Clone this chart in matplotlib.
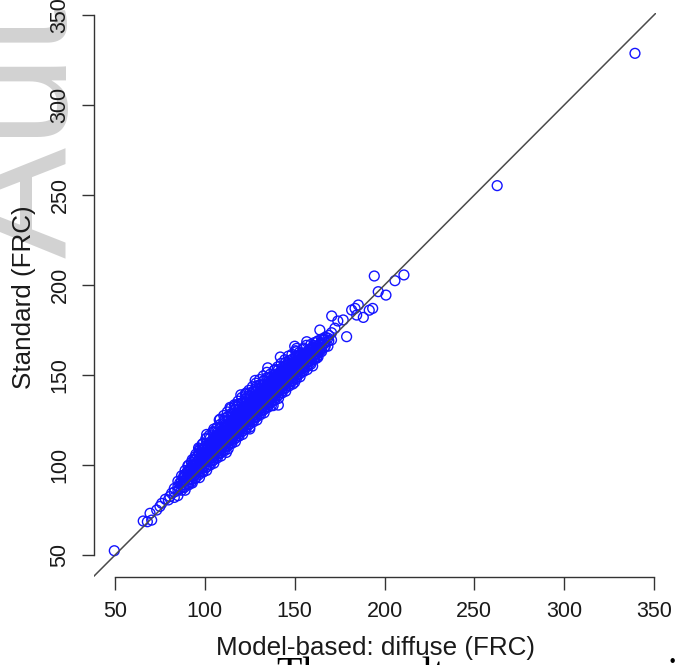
import matplotlib
matplotlib.use('Agg')
import matplotlib.pyplot as plt

plt.rcParams['font.family'] = ['Liberation Sans', 'DejaVu Sans']

# ---- data ----
# dense cloud, one column of Standard values per Model-based value
core_x = [83, 85, 87, 89, 91, 93, 95, 97, 99, 101, 103, 105, 107, 109, 111, 113, 115,
          117, 119, 121, 123, 125, 127, 129, 131, 133, 135, 137, 139, 141, 143, 145,
          147, 149, 151, 153, 155, 157, 159, 161, 163, 165, 167, 169,
          86, 88, 90, 92, 94, 96, 98, 100, 102, 104, 106, 108, 110, 112, 114, 116,
          118, 120, 122, 124, 126, 128, 130, 132, 134, 136, 138, 140, 142, 144, 146,
          148, 150, 152, 154, 156, 158, 160, 162, 164, 166]
core_y = [[82, 85, 87], [83, 86, 88, 91], [86, 89, 91, 94], [86, 89, 91, 94, 97],
          [89, 92, 94, 97, 100], [90, 92, 95, 97, 100, 103], [93, 95, 98, 100, 103, 106],
          [93, 96, 98, 101, 103, 106, 109], [96, 99, 101, 104, 106, 109, 112],
          [97, 99, 102, 104, 107, 109, 112, 115], [100, 102, 105, 107, 110, 112, 115],
          [101, 103, 105, 108, 110, 113, 115, 118, 120],
          [104, 106, 108, 111, 113, 116, 118, 121], [105, 107, 109, 111, 114, 116, 119, 121],
          [108, 110, 112, 114, 117, 119, 122, 124, 126],
          [109, 111, 113, 115, 117, 120, 122, 125, 127],
          [112, 114, 116, 118, 120, 123, 125, 128],
          [113, 115, 117, 119, 121, 123, 126, 128, 131, 133],
          [116, 118, 120, 122, 124, 126, 129, 131, 134],
          [117, 119, 121, 123, 125, 127, 129, 132, 134],
          [120, 122, 124, 126, 128, 130, 132, 135, 137, 140],
          [121, 123, 125, 127, 129, 131, 133, 135, 138, 140],
          [124, 126, 128, 130, 132, 134, 136, 138, 141],
          [125, 127, 129, 131, 133, 135, 137, 139, 141, 144],
          [128, 130, 132, 134, 136, 138, 140, 142, 144],
          [129, 131, 133, 135, 137, 139, 141, 143, 145, 147],
          [132, 134, 136, 138, 140, 142, 144, 146, 148],
          [133, 135, 137, 139, 141, 143, 145, 147, 149],
          [136, 138, 140, 142, 144, 146, 148, 150, 153],
          [137, 139, 141, 143, 145, 147, 149, 151, 153],
          [140, 142, 144, 146, 148, 150, 152, 154],
          [141, 143, 145, 147, 149, 151, 153, 155, 157],
          [144, 146, 148, 150, 152, 154, 156, 158],
          [145, 147, 149, 151, 153, 155, 157, 159],
          [148, 150, 152, 154, 156, 158, 160, 163],
          [149, 151, 153, 155, 157, 159, 161],
          [152, 154, 156, 158, 160, 162, 165],
          [153, 155, 157, 159, 161, 163],
          [156, 158, 160, 162, 164, 167],
          [159, 161, 163, 165, 168], [160, 162, 164, 166, 169],
          [163, 165, 167, 170], [166, 168, 171], [169, 172],
          [87, 90], [88, 91, 93], [90, 93, 96], [92, 95, 98], [94, 97, 100, 103],
          [96, 99, 102, 105], [98, 101, 104, 107], [100, 103, 106, 109],
          [102, 105, 108, 111], [104, 107, 110, 113], [106, 109, 112, 115],
          [108, 111, 114, 117], [110, 113, 116, 119], [112, 115, 118, 121],
          [114, 117, 120, 123], [116, 119, 122, 125], [118, 121, 124, 127],
          [120, 123, 126, 129], [122, 125, 128, 131], [124, 127, 130, 133],
          [126, 129, 132, 135], [128, 131, 134, 137], [130, 133, 136, 139],
          [132, 135, 138, 141], [134, 137, 140, 143], [136, 139, 142, 145],
          [138, 141, 144, 147], [140, 143, 146, 149], [142, 145, 148, 151],
          [144, 147, 150, 153], [146, 149, 152], [148, 151, 154], [150, 153, 156],
          [152, 155, 158], [154, 157, 160], [156, 159, 162], [158, 161, 164],
          [160, 163], [162, 165], [164, 167], [167]]

half_x = [88.5, 90.5, 92.5, 94.5, 96.5, 98.5, 100.5, 102.5, 104.5, 106.5, 108.5, 110.5,
          112.5, 114.5, 116.5, 118.5, 120.5, 122.5, 124.5, 126.5, 128.5, 130.5, 132.5,
          134.5, 136.5, 138.5, 140.5, 142.5, 144.5, 146.5, 148.5, 150.5, 152.5, 154.5,
          156.5, 158.5, 160.5, 162.5, 164.5, 166.5, 168.5, 170.5]
half_y = [[87.5, 91.5, 94.5], [89.5, 93.5, 96.5, 99.5], [90.5, 94.5, 98.5, 101.5],
          [92.5, 96.5, 100.5, 104.5], [94.5, 98.5, 102.5, 106.5, 109.5],
          [96.5, 100.5, 104.5, 108.5, 111.5], [98.5, 102.5, 106.5, 110.5, 114.5],
          [100.5, 104.5, 108.5, 112.5, 116.5], [102.5, 106.5, 110.5, 114.5, 118.5],
          [104.5, 108.5, 112.5, 116.5, 120.5], [106.5, 110.5, 114.5, 118.5, 122.5, 125.5],
          [108.5, 112.5, 116.5, 120.5, 124.5, 127.5], [110.5, 114.5, 118.5, 122.5, 126.5, 129.5],
          [112.5, 116.5, 120.5, 124.5, 128.5, 131.5], [114.5, 118.5, 122.5, 126.5, 130.5, 133.5],
          [116.5, 120.5, 124.5, 128.5, 132.5, 135.5], [118.5, 122.5, 126.5, 130.5, 134.5, 137.5],
          [120.5, 124.5, 128.5, 132.5, 136.5, 139.5], [122.5, 126.5, 130.5, 134.5, 138.5, 141.5],
          [124.5, 128.5, 132.5, 136.5, 140.5, 143.5], [126.5, 130.5, 134.5, 138.5, 142.5, 145.5],
          [128.5, 132.5, 136.5, 140.5, 144.5, 147.5], [130.5, 134.5, 138.5, 142.5, 146.5, 149.5],
          [132.5, 136.5, 140.5, 144.5, 148.5, 151.5], [134.5, 138.5, 142.5, 146.5, 150.5],
          [136.5, 140.5, 144.5, 148.5, 152.5], [138.5, 142.5, 146.5, 150.5, 154.5],
          [140.5, 144.5, 148.5, 152.5, 156.5], [142.5, 146.5, 150.5, 154.5, 158.5],
          [144.5, 148.5, 152.5, 156.5, 160.5], [146.5, 150.5, 154.5, 158.5, 161.5],
          [148.5, 152.5, 156.5, 160.5, 163.5], [150.5, 154.5, 158.5, 162.5],
          [152.5, 156.5, 160.5, 164.5], [154.5, 158.5, 162.5, 166.5],
          [156.5, 160.5, 164.5], [158.5, 162.5, 166.5], [160.5, 164.5, 168.5],
          [163.5, 167.5], [165.5, 169.5], [170.5], [169.5, 173.5]]

# sparse points outside the dense cloud
tail_x = [49.6, 65.7, 68.0, 70.4, 69.5, 73.2, 76.0, 79.7, 81.5, 75.0, 78.0, 80.5,
          97.3, 104.7, 117.7, 123.3, 140.9, 151.1, 156.7, 162.2, 164.0, 166.0, 168.5,
          170.6, 172.4, 174.0, 177.0, 178.9, 181.7, 183.6, 184.5, 185.4, 188.2, 191.5,
          193.4, 194.3, 196.5, 200.8, 205.8, 210.8, 262.7, 339.4,
          101.0, 108.0, 114.0, 120.0, 128.0, 135.0, 142.0, 150.0,
          112.0, 125.0, 138.0, 150.0, 160.0]
tail_y = [52.4, 68.9, 68.5, 69.4, 73.2, 75.0, 78.7, 80.6, 84.3, 77.0, 81.0, 82.5,
          108.3, 118.5, 132.4, 139.8, 133.3, 164.8, 168.5, 159.3, 175.0, 170.0, 166.0,
          182.8, 176.0, 180.0, 180.6, 171.3, 186.1, 187.0, 183.3, 188.9, 182.0, 186.0,
          187.0, 205.0, 196.3, 194.4, 202.4, 205.6, 255.2, 328.7,
          117.0, 125.0, 132.0, 139.0, 147.0, 154.0, 160.0, 166.0,
          107.0, 120.0, 133.0, 146.0, 155.0]

ticks = [50, 100, 150, 200, 250, 300, 350]
x_label = 'Model-based: diffuse (FRC)'
y_label = 'Standard (FRC)'

model_vals = []
std_vals = []
for xs_, ys_ in ((core_x, core_y), (half_x, half_y)):
    for xv, ys in zip(xs_, ys_):
        for yv in ys:
            model_vals.append(xv)
            std_vals.append(yv)
model_vals += tail_x
std_vals += tail_y

# ---- figure ----
W, H = 676, 665
fig = plt.figure(figsize=(W / 100, H / 100), dpi=100)
fig.patch.set_facecolor('white')

# watermark on the left margin
fig.text(67 / W, (H - 258) / H, 'Author Manuscript', rotation=90, rotation_mode='anchor',
         ha='left', va='baseline', fontsize=120, color='#d2d2d2', zorder=-10)

L, R, T, B = 94, 656, 13, 577
ax = fig.add_axes([L / W, (H - B) / H, (R - L) / W, (B - T) / H])
ax.patch.set_alpha(0)

ax.scatter(model_vals, std_vals, s=50, facecolors='none', edgecolors='#1414ff',
           linewidths=1.0, zorder=2)
ax.axline((100, 100), slope=1, color='#4a4a4a', lw=1.1, zorder=3)

ax.set_xlim(38.3, 351.1)
ax.set_ylim(37.8, 351.1)
ax.set_xticks(ticks)
ax.set_yticks(ticks)
ax.set_xticklabels([str(t) for t in ticks])
ax.set_yticklabels([str(t) for t in ticks])

for s in ('top', 'right'):
    ax.spines[s].set_visible(False)
for s in ('left', 'bottom'):
    ax.spines[s].set_bounds(50, 350)
    ax.spines[s].set_color('#333333')
    ax.spines[s].set_linewidth(1.0)

ax.tick_params(axis='both', direction='out', length=9, width=1.0, color='#333333',
               labelsize=15.5, labelcolor='#1a1a1a', pad=8)
for lbl in ax.get_yticklabels():
    lbl.set_rotation(90)
    lbl.set_va('center')
    lbl.set_ha('right')

ax.set_xlabel(x_label, fontsize=18.7, color='#1a1a1a')
ax.xaxis.set_label_coords((376 - L) / (R - L), (B - 655) / (B - T))
ax.xaxis.label.set_va('baseline')
ax.set_ylabel(y_label, fontsize=18.7, color='#1a1a1a')
ax.yaxis.set_label_coords((31 - L) / (R - L), (B - 297) / (B - T))
ax.yaxis.label.set_va('baseline')

# caption text cut off at the bottom edge
fig.text(277 / W, (H - 686) / H, 'The results are summarized as follows by',
         family=['Liberation Serif', 'DejaVu Serif'], fontsize=30, color='black',
         ha='left', va='baseline')

fig.savefig('out.png', dpi=100)
